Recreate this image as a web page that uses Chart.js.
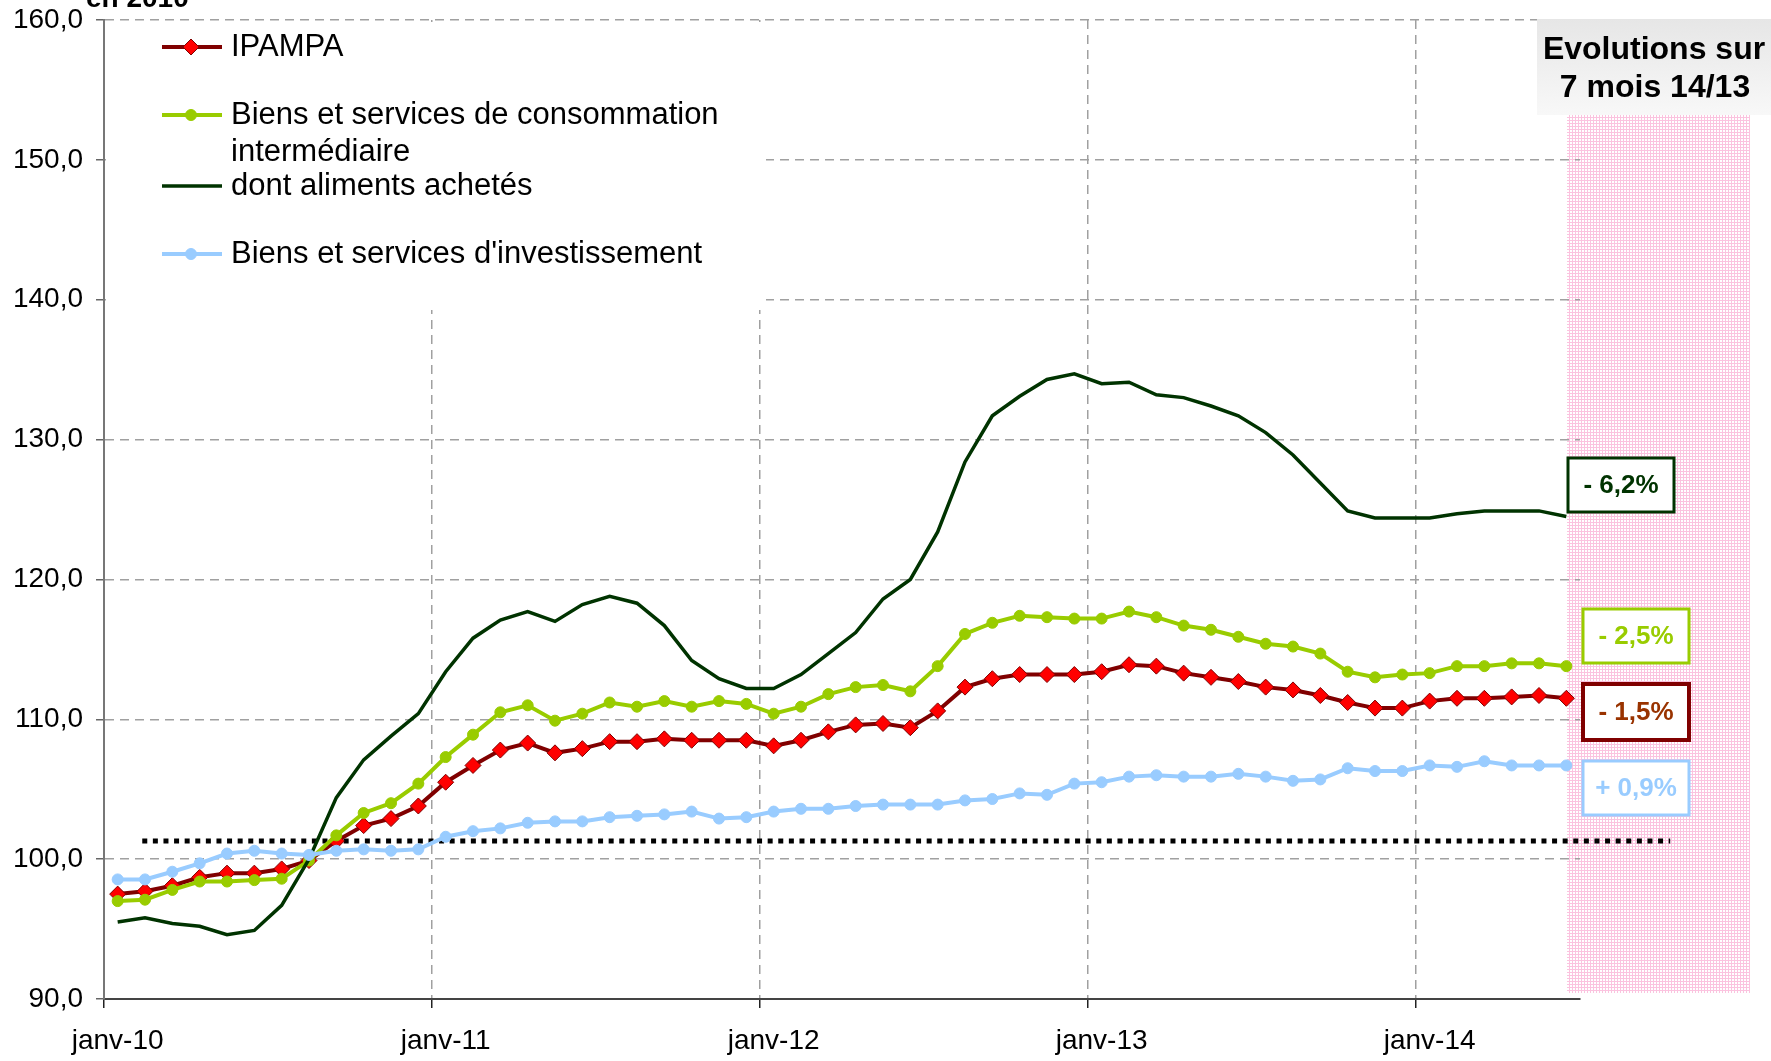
<!DOCTYPE html>
<html lang="fr">
<head>
<meta charset="utf-8">
<title>IPAMPA - indices</title>
<script src="https://cdn.jsdelivr.net/npm/chart.js@4.4.1/dist/chart.umd.min.js"></script>
<style>
  html, body { margin: 0; padding: 0; background: #fff; }
  canvas { display: block; }
</style>
</head>
<body>
<canvas id="chart" width="1771" height="1061"></canvas>
<script>
// Monthly categories, janv-10 .. juin-14
const months = [
  'janv-10', 'févr-10', 'mars-10', 'avr-10', 'mai-10', 'juin-10', 'juil-10', 'août-10', 'sept-10', 'oct-10', 'nov-10', 'déc-10',
  'janv-11', 'févr-11', 'mars-11', 'avr-11', 'mai-11', 'juin-11', 'juil-11', 'août-11', 'sept-11', 'oct-11', 'nov-11', 'déc-11',
  'janv-12', 'févr-12', 'mars-12', 'avr-12', 'mai-12', 'juin-12', 'juil-12', 'août-12', 'sept-12', 'oct-12', 'nov-12', 'déc-12',
  'janv-13', 'févr-13', 'mars-13', 'avr-13', 'mai-13', 'juin-13', 'juil-13', 'août-13', 'sept-13', 'oct-13', 'nov-13', 'déc-13',
  'janv-14', 'févr-14', 'mars-14', 'avr-14', 'mai-14', 'juin-14'
];

const ipampa = [
  97.5, 97.7, 98.1, 98.7, 99.0, 99.0, 99.3, 99.9, 101.3, 102.4, 102.9, 103.8,
  105.5, 106.7, 107.8, 108.3, 107.6, 107.9, 108.4, 108.4, 108.6, 108.5, 108.5, 108.5,
  108.1, 108.5, 109.1, 109.6, 109.7, 109.4, 110.6, 112.3, 112.9, 113.2, 113.2, 113.2,
  113.4, 113.9, 113.8, 113.3, 113.0, 112.7, 112.3, 112.1, 111.7, 111.2, 110.8, 110.8,
  111.3, 111.5, 111.5, 111.6, 111.7, 111.5
];

const consoInter = [
  97.0, 97.1, 97.8, 98.4, 98.4, 98.5, 98.6, 99.9, 101.7, 103.3, 104.0, 105.4,
  107.3, 108.9, 110.5, 111.0, 109.9, 110.4, 111.2, 110.9, 111.3, 110.9, 111.3, 111.1,
  110.4, 110.9, 111.8, 112.3, 112.45, 112.0, 113.8, 116.1, 116.9, 117.4, 117.3, 117.2,
  117.2, 117.7, 117.3, 116.7, 116.4, 115.9, 115.4, 115.2, 114.7, 113.4, 113.0, 113.2,
  113.3, 113.8, 113.8, 114.0, 114.0, 113.8
];

const aliments = [
  95.5, 95.8, 95.4, 95.2, 94.6, 94.9, 96.7, 100.0, 104.4, 107.1, 108.8, 110.4,
  113.4, 115.8, 117.1, 117.7, 117.0, 118.2, 118.8, 118.3, 116.7, 114.2, 112.9, 112.2,
  112.2, 113.2, 114.7, 116.2, 118.6, 120.0, 123.4, 128.4, 131.7, 133.1, 134.3, 134.7,
  134.0, 134.1, 133.2, 133.0, 132.4, 131.7, 130.5, 128.9, 126.9, 124.9, 124.4, 124.4,
  124.4, 124.7, 124.9, 124.9, 124.9, 124.5
];

const investissement = [
  98.55, 98.55, 99.1, 99.7, 100.4, 100.6, 100.4, 100.3, 100.6, 100.7, 100.6, 100.7,
  101.6, 102.0, 102.2, 102.6, 102.7, 102.7, 103.0, 103.1, 103.2, 103.4, 102.9, 103.0,
  103.4, 103.6, 103.6, 103.8, 103.9, 103.9, 103.9, 104.2, 104.3, 104.7, 104.6, 105.4,
  105.5, 105.9, 106.0, 105.9, 105.9, 106.1, 105.9, 105.6, 105.7, 106.5, 106.3, 106.3,
  106.7, 106.6, 107.0, 106.7, 106.7, 106.7
];

const seriesNames = [
  'IPAMPA',
  'Biens et services de consommation\nintermédiaire',
  'dont aliments achetés',
  "Biens et services d'investissement"
];

// 7-month change 2014 vs 2013, one per series
const evolutions = ['- 1,5%', '- 2,5%', '- 6,2%', '+ 0,9%'];

const yTicks = [90, 100, 110, 120, 130, 140, 150, 160];
const referenceLevel = 101.3;

const FONT = "'Liberation Sans', Arial, sans-serif";
const colors = {
  ipampa: '#800000',
  ipampaMarker: '#ff0000',
  conso: '#99cc00',
  aliments: '#003300',
  invest: '#99ccff',
  grid: '#a0a0a0'
};

// small pink mesh tile for the highlighted column
const meshTile = document.createElement('canvas');
meshTile.width = 3;
meshTile.height = 3;
(function () {
  const t = meshTile.getContext('2d');
  t.fillStyle = '#ffffff';
  t.fillRect(0, 0, 3, 3);
  t.fillStyle = '#fbc3df';
  t.fillRect(0, 0, 3, 1);
  t.fillRect(0, 0, 1, 3);
})();

const backdrop = {
  id: 'backdrop',
  beforeDraw(chart) {
    const { ctx } = chart;
    ctx.save();
    ctx.fillStyle = '#ffffff';
    ctx.fillRect(0, 0, chart.width, chart.height);
    ctx.fillStyle = ctx.createPattern(meshTile, 'repeat');
    ctx.fillRect(1567, 20, 183, 973);
    ctx.restore();
  }
};

// white legend panel over the grid, top-left of the plot
const legendPanel = {
  id: 'legendPanel',
  beforeDatasetsDraw(chart) {
    const { ctx } = chart;
    const rows = [47, 115, 186, 254];
    ctx.save();
    ctx.fillStyle = '#ffffff';
    ctx.fillRect(106, 22, 660, 288);

    // dotted reference line
    const xs = chart.scales.x;
    const step = xs.getPixelForValue(1) - xs.getPixelForValue(0);
    const yRef = chart.scales.y.getPixelForValue(referenceLevel);
    ctx.strokeStyle = '#000';
    ctx.lineWidth = 5;
    ctx.setLineDash([5, 5.6]);
    ctx.beginPath();
    ctx.moveTo(xs.getPixelForValue(0) + 0.9 * step, yRef);
    ctx.lineTo(xs.getPixelForValue(0) + 56.8 * step, yRef);
    ctx.stroke();
    ctx.setLineDash([]);

    chart.data.datasets.forEach((ds, i) => {
      const y = rows[i];
      ctx.strokeStyle = ds.borderColor;
      ctx.lineWidth = ds.borderWidth;
      ctx.beginPath();
      ctx.moveTo(162, y);
      ctx.lineTo(222, y);
      ctx.stroke();
      if (ds.pointRadius) {
        ctx.fillStyle = ds.pointBackgroundColor;
        ctx.strokeStyle = ds.pointBorderColor;
        ctx.lineWidth = ds.pointBorderWidth;
        Chart.helpers.drawPoint(ctx, {
          pointStyle: ds.pointStyle,
          radius: ds.pointRadius,
          rotation: 0,
          borderWidth: ds.pointBorderWidth
        }, 191, y);
      }
      ctx.fillStyle = '#000';
      ctx.font = '31px ' + FONT;
      ctx.textAlign = 'left';
      ctx.textBaseline = 'middle';
      ds.label.split('\n').forEach((line, k) => {
        ctx.fillText(line, 231, y + k * 37);
      });
    });
    ctx.restore();
  }
};

function framedLabel(ctx, text, box, border, width, textColor) {
  ctx.fillStyle = '#ffffff';
  ctx.fillRect(box[0], box[1], box[2], box[3]);
  ctx.strokeStyle = border;
  ctx.lineWidth = width;
  ctx.strokeRect(box[0], box[1], box[2], box[3]);
  ctx.fillStyle = textColor;
  ctx.font = 'bold 26px ' + FONT;
  ctx.textAlign = 'center';
  ctx.textBaseline = 'middle';
  ctx.fillText(text, box[0] + box[2] / 2, box[1] + box[3] / 2 + 1);
}

const decorations = {
  id: 'decorations',
  afterDraw(chart) {
    const { ctx } = chart;
    ctx.save();

    // clipped heading at the very top
    ctx.fillStyle = '#000';
    ctx.font = 'bold 28px ' + FONT;
    ctx.textAlign = 'left';
    ctx.textBaseline = 'alphabetic';
    ctx.fillText('en 2010', 86, 7);

    // header of the right column
    const g = ctx.createLinearGradient(0, 19, 0, 115);
    g.addColorStop(0, '#e6e6e6');
    g.addColorStop(1, '#f8f8f8');
    ctx.fillStyle = g;
    ctx.fillRect(1537, 19, 234, 96);
    ctx.fillStyle = '#000';
    ctx.font = 'bold 32px ' + FONT;
    ctx.textAlign = 'center';
    ctx.textBaseline = 'middle';
    ctx.fillText('Evolutions sur', 1654, 50);
    ctx.fillText('7 mois 14/13', 1655, 88);

    framedLabel(ctx, evolutions[2], [1568, 458, 106, 54], colors.aliments, 3, colors.aliments);
    framedLabel(ctx, evolutions[1], [1583, 609, 106, 54], colors.conso, 3, colors.conso);
    framedLabel(ctx, evolutions[0], [1583, 684, 106, 56], colors.ipampa, 4, '#993300');
    framedLabel(ctx, evolutions[3], [1583, 761, 106, 54], colors.invest, 3, colors.invest);
    ctx.restore();
  }
};

const isYearStart = i => i % 12 === 0;

new Chart(document.getElementById('chart'), {
  type: 'line',
  data: {
    labels: months,
    datasets: [
      {
        label: seriesNames[0],
        data: ipampa,
        borderColor: colors.ipampa,
        borderWidth: 4,
        pointStyle: 'rectRot',
        pointRadius: 8,
        pointBackgroundColor: colors.ipampaMarker,
        pointBorderColor: colors.ipampa,
        pointBorderWidth: 1,
        order: 3
      },
      {
        label: seriesNames[1],
        data: consoInter,
        borderColor: colors.conso,
        borderWidth: 4,
        pointStyle: 'circle',
        pointRadius: 5.5,
        pointBackgroundColor: colors.conso,
        pointBorderColor: colors.conso,
        pointBorderWidth: 1,
        order: 2
      },
      {
        label: seriesNames[2],
        data: aliments,
        borderColor: colors.aliments,
        borderWidth: 3.5,
        pointRadius: 0,
        order: 1
      },
      {
        label: seriesNames[3],
        data: investissement,
        borderColor: colors.invest,
        borderWidth: 4,
        pointStyle: 'circle',
        pointRadius: 5.5,
        pointBackgroundColor: colors.invest,
        pointBorderColor: colors.invest,
        pointBorderWidth: 1,
        order: 0
      }
    ]
  },
  options: {
    responsive: false,
    animation: false,
    events: [],
    layout: { padding: { top: 20, right: 191, left: 0, bottom: 0 } },
    elements: { line: { tension: 0 } },
    plugins: {
      legend: { display: false },
      tooltip: { enabled: false }
    },
    scales: {
      x: {
        type: 'category',
        offset: true,
        afterFit(scale) {
          scale.height = 62;
          scale.paddingLeft = 0;
          scale.paddingRight = 0;
        },
        grid: {
          offset: true,
          color: ctx => (isYearStart(ctx.index) && ctx.index > 0 ? colors.grid : 'rgba(0,0,0,0)'),
          tickColor: ctx => (isYearStart(ctx.index) ? '#222' : 'rgba(0,0,0,0)'),
          lineWidth: 1.5,
          tickWidth: 1.5,
          tickLength: 9,
          tickBorderDash: []
        },
        border: { color: '#444', width: 2, dash: [9, 6] },
        ticks: {
          autoSkip: false,
          maxRotation: 0,
          color: '#000',
          font: { family: FONT, size: 28 },
          padding: 16,
          callback: (v, i) => (isYearStart(i) ? months[i] : '')
        }
      },
      y: {
        min: yTicks[0],
        max: yTicks[yTicks.length - 1],
        afterFit(scale) {
          scale.width = 104;
          scale.paddingTop = 0;
          scale.paddingBottom = 0;
        },
        afterBuildTicks(scale) { scale.ticks = yTicks.map(v => ({ value: v })); },
        grid: {
          color: colors.grid,
          tickColor: '#666',
          lineWidth: 1.5,
          tickWidth: 1.5,
          tickLength: 8,
          tickBorderDash: []
        },
        border: { color: '#777', width: 2, dash: [9, 6] },
        ticks: {
          color: '#000',
          font: { family: FONT, size: 28 },
          padding: 13,
          callback: v => v.toFixed(1).replace('.', ',')
        }
      }
    }
  },
  plugins: [backdrop, legendPanel, decorations]
});
</script>
</body>
</html>
